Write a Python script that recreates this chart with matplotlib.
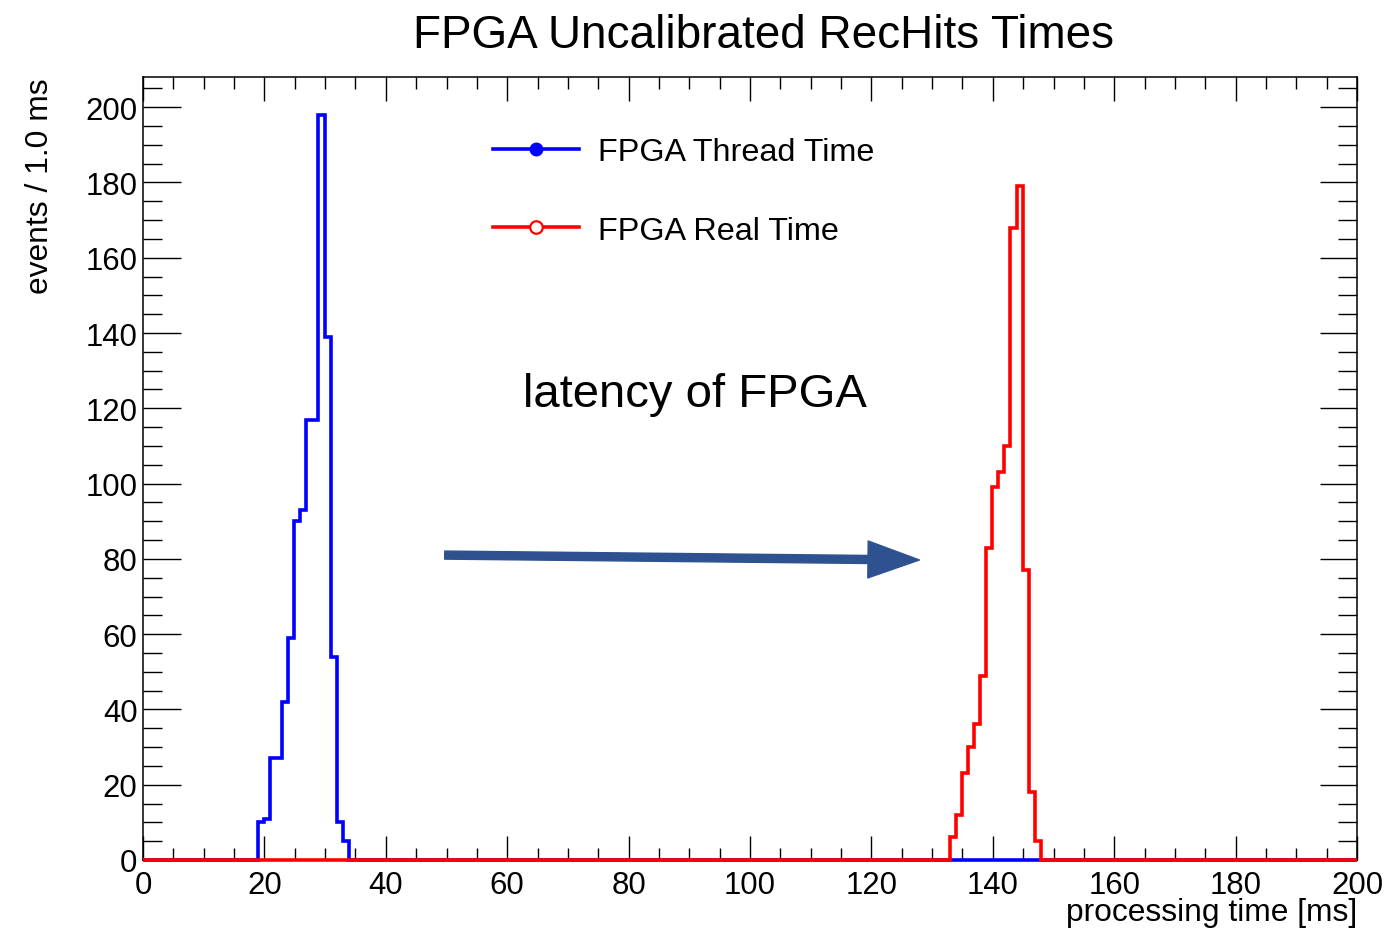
import numpy as np
import matplotlib
matplotlib.use('Agg')
from matplotlib import pyplot as plt
from matplotlib.lines import Line2D
from matplotlib.ticker import MultipleLocator

plt.rcParams['font.family'] = ['Liberation Sans', 'DejaVu Sans']

# histogram contents, 1 ms bins
bin_width = 1.0
bin_offset = 0.9          # bin edges sit at n + 0.9 ms
x_range = (0, 200)

thread_start = 18.9
thread_counts = [10, 11, 27, 27, 42, 59, 90, 93, 117, 117, 198, 139, 54, 10, 5]
real_start = 132.9
real_counts = [6, 12, 23, 30, 36, 49, 83, 99, 103, 110, 168, 179, 77, 18, 5]

title = 'FPGA Uncalibrated RecHits Times'
xlabel = 'processing time [ms]'
ylabel = 'events / 1.0 ms'
legend_labels = ['FPGA Thread Time', 'FPGA Real Time']
note = 'latency of FPGA'

# bin edges across the full frame, clipped to the axis range
edges = np.concatenate([[x_range[0]],
                        np.arange(bin_offset, x_range[1], bin_width),
                        [x_range[1]]])


def full_hist(start, counts):
    h = np.zeros(len(edges) - 1)
    i = int(np.argmin(np.abs(edges - start)))
    h[i:i + len(counts)] = counts
    return h


fig = plt.figure(figsize=(13.9, 9.29), dpi=100)
ax = fig.add_axes([0.1029, 0.0732, 0.8734, 0.8428])

ax.stairs(full_hist(thread_start, thread_counts), edges, color='#0000ff',
          lw=2.6, clip_on=False, zorder=3)
ax.stairs(full_hist(real_start, real_counts), edges, color='#ff0000',
          lw=2.6, clip_on=False, zorder=4)

ax.set_xlim(*x_range)
ax.set_ylim(0, 208)

ax.xaxis.set_major_locator(MultipleLocator(20))
ax.xaxis.set_minor_locator(MultipleLocator(5))
ax.yaxis.set_major_locator(MultipleLocator(20))
ax.yaxis.set_minor_locator(MultipleLocator(5))
ax.tick_params(which='both', direction='in', top=True, right=True,
               width=1.0, labelsize=22.4)
ax.tick_params(axis='x', which='major', length=17, pad=7)
ax.tick_params(axis='x', which='minor', length=8.6)
ax.tick_params(axis='y', which='major', length=27, pad=4)
ax.tick_params(axis='y', which='minor', length=13.5)
for s in ax.spines.values():
    s.set_linewidth(1.1)

fig.text(764 / 1390, 1 - 36 / 929, title, ha='center', va='center', fontsize=33)
fig.text(1357 / 1390, 1 - 913 / 929, xlabel, ha='right', va='center', fontsize=22.9)
fig.text(40 / 1390, 1 - 78 / 929, ylabel, ha='center', va='top', rotation=90,
         fontsize=22.9)

handles = [
    Line2D([], [], color='#0000ff', lw=2.6, marker='o', ms=9),
    Line2D([], [], color='#ff0000', lw=2.6, marker='o', ms=9, mfc='white',
           mec='#ff0000', mew=1.6),
]
ax.legend(handles, legend_labels, loc='upper left',
          bbox_to_anchor=(493 / 1390, 1 - 138 / 929), bbox_transform=fig.transFigure,
          frameon=False, fontsize=23.3, handlelength=2.65, handletextpad=0.6,
          labelspacing=1.5, borderpad=0, borderaxespad=0)

# overlay annotation
ax.text(90.9, 123.8, note, ha='center', va='center', fontsize=34)
ax.annotate('', xy=(127.9, 79.7), xytext=(49.7, 81.0),
            arrowprops=dict(arrowstyle='simple,head_length=37,head_width=26.6,tail_width=5.8',
                            mutation_scale=1, color='#2e5290', shrinkA=0, shrinkB=0))

plt.savefig('out.png', dpi=100)
